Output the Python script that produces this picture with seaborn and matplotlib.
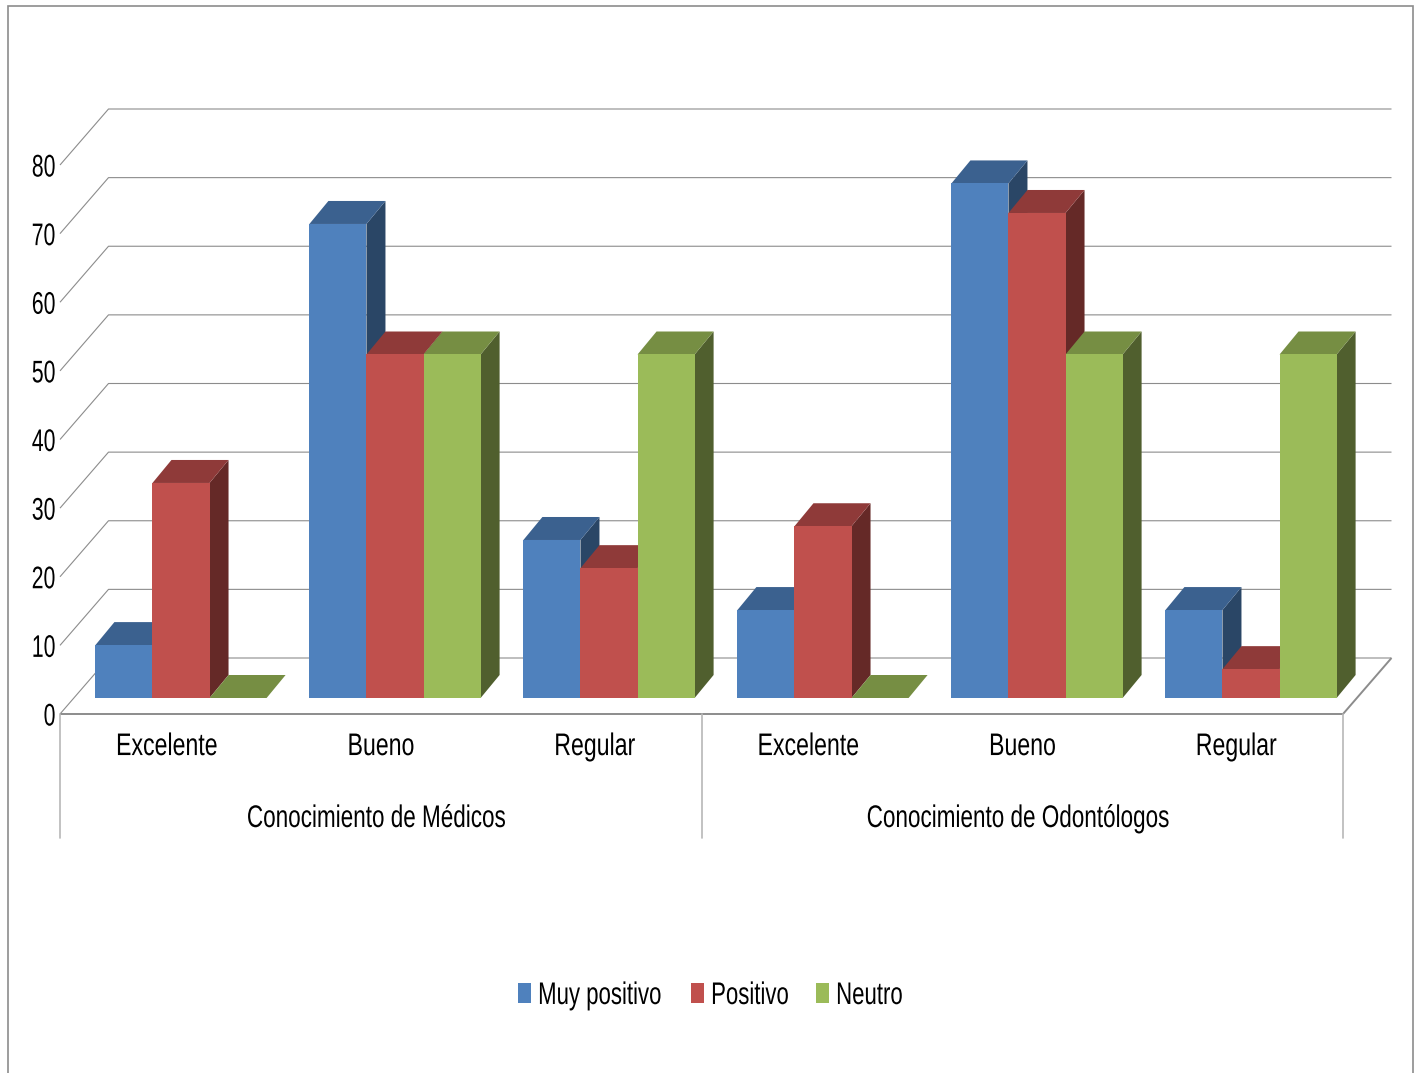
import matplotlib
matplotlib.use("Agg")
import matplotlib.pyplot as plt
from matplotlib.patches import Polygon, Rectangle
from matplotlib.patheffects import AbstractPathEffect
from matplotlib.transforms import Affine2D, blended_transform_factory
import pandas as pd
import seaborn as sns

# Survey results, percentage of answers per knowledge level and group
categories = ["Excelente", "Bueno", "Regular", "Excelente", "Bueno", "Regular"]
groups = ["Conocimiento de Médicos", "Conocimiento de Odontólogos"]
muy_positivo = [7.7, 69.0, 23.0, 12.8, 74.9, 12.8]
positivo = [31.3, 50.0, 18.9, 25.0, 70.6, 4.2]
neutro = [0.0, 50.0, 50.0, 0.0, 50.0, 50.0]
series_names = ["Muy positivo", "Positivo", "Neutro"]
y_ticks = [0, 10, 20, 30, 40, 50, 60, 70, 80]

front_colors = ["#4F81BD", "#C0504D", "#9BBB59"]
top_colors = ["#3B618F", "#8F3A39", "#768E43"]
side_colors = ["#2A4666", "#652927", "#505F2E"]

W, H = 1419, 1073
FONT_SIZE = 22.5
sns.set_theme(style="white")
plt.rcParams["font.family"] = ["Liberation Sans", "DejaVu Sans"]


class Condensed(AbstractPathEffect):
    """Narrows a text horizontally around a pivot given as a fraction of its width."""

    def __init__(self, factor=0.72, anchor=0.5):
        super().__init__()
        self.factor = factor
        self.anchor = anchor

    def draw_path(self, renderer, gc, tpath, affine, rgbFace=None):
        ext = tpath.get_extents()
        pivot = ext.x0 + ext.width * self.anchor
        local = Affine2D().translate(-pivot, 0).scale(self.factor, 1).translate(pivot, 0)
        renderer.draw_path(gc, tpath, local + affine, rgbFace)


fig = plt.figure(figsize=(W / 100, H / 100), dpi=100)


def px_axes(left, right, top, bottom):
    return fig.add_axes([left / W, 1 - bottom / H, (right - left) / W, (bottom - top) / H])


# Border around the whole chart area
fig.add_artist(Rectangle((7.5 / W, -0.01), (1413 - 7.5) / W, 1 - 6 / H + 0.01,
                         transform=fig.transFigure, fill=False, ec="#8C8C8C", lw=1.2))

# Front plane of the box: carries the tick labels, floor edge and wall lines
frame = px_axes(60, 1343, 165, 714)
frame.set_xlim(-0.5, 5.5)
frame.set_ylim(0, 80)
frame.patch.set_alpha(0)
for s in frame.spines.values():
    s.set_visible(False)
frame.set_yticks(y_ticks)
frame.set_yticklabels([str(t) for t in y_ticks], fontsize=FONT_SIZE, color="black")
frame.set_xticks(range(6))
frame.set_xticklabels(categories, fontsize=FONT_SIZE, color="black")
frame.tick_params(axis="y", length=0, pad=3)
frame.tick_params(axis="x", length=0, pad=13)
for lab in frame.get_yticklabels():
    lab.set_path_effects([Condensed(0.68, 1.0)])
for lab in frame.get_xticklabels():
    lab.set_path_effects([Condensed(0.74, 0.5)])

box_dx = 48.5 / 1283   # box depth, in axes fraction
box_dy = 56 / 6.8625   # box depth, in value units
tr = blended_transform_factory(frame.transAxes, frame.transData)
line = dict(transform=tr, clip_on=False, color="#8C8C8C", lw=0.8, solid_capstyle="butt")
for v in y_ticks:
    frame.plot([0, box_dx, 1 + box_dx], [v, v + box_dy, v + box_dy], zorder=1, **line)
frame.plot([0, 1, 1 + box_dx], [0, 0, box_dy], zorder=1, **{**line, "lw": 1.4})

# Separators under the floor, between and around the two groups
sep_bottom = -(838 - 714) / 6.8625
for x in (0, 0.5, 1):
    frame.plot([x, x], [0, sep_bottom], transform=tr, clip_on=False,
               color="#B8B8B8", lw=1.2, zorder=1)
for name, cx in zip(groups, (376.5, 1018)):
    t = frame.text((cx - 60) / 1283, -(819 - 714) / 6.8625, name, transform=tr,
                   ha="center", va="center", fontsize=FONT_SIZE, color="black")
    t.set_path_effects([Condensed(0.72, 0.5)])

# Bars sit at a plane slightly behind the front edge of the floor
ax = px_axes(74, 1358, 698 - 80 * 6.87, 698)
ax.patch.set_alpha(0)
df = pd.DataFrame({
    "pos": list(range(6)) * 3,
    "valor": muy_positivo + positivo + neutro,
    "serie": sum([[n] * 6 for n in series_names], []),
})
sns.barplot(data=df, x="pos", y="valor", hue="serie", hue_order=series_names,
            palette=front_colors, width=0.8, gap=0, saturation=1, ax=ax,
            linewidth=0, zorder=10)
ax.set_xlim(-0.5, 5.5)
ax.set_ylim(0, 80)
ax.set_axis_off()

# Extrude every bar backwards to get its side and top faces
bar_dx = 19 / 214
bar_dy = 23 / 6.87
n_cat = len(categories)
for pos in range(n_cat):
    for k in range(3):
        bar = ax.containers[k][pos]
        x0, x1 = bar.get_x(), bar.get_x() + bar.get_width()
        h = bar.get_height()
        z = 2 + k
        ax.add_patch(Polygon([(x1, 0), (x1 + bar_dx, bar_dy), (x1 + bar_dx, h + bar_dy), (x1, h)],
                             fc=side_colors[k], ec="none", zorder=z, clip_on=False))
        ax.add_patch(Polygon([(x0, h), (x1, h), (x1 + bar_dx, h + bar_dy), (x0 + bar_dx, h + bar_dy)],
                             fc=top_colors[k], ec="none", zorder=z, clip_on=False))

# Legend along the bottom of the chart, one entry per series
ax.get_legend().remove()
for name, color, left in zip(series_names, front_colors, (518, 691, 816)):
    leg = fig.legend([Rectangle((0, 0), 1, 1, fc=color, ec="none")], [name],
                     loc="center left", bbox_to_anchor=(left / W, 1 - 996 / H),
                     frameon=False, fontsize=FONT_SIZE, handlelength=0.42, handleheight=0.61,
                     handletextpad=0.2, borderpad=0, borderaxespad=0, labelcolor="black")
    leg.get_texts()[0].set_path_effects([Condensed(0.71, 0.0)])

fig.savefig("out.png", dpi=100, facecolor="white")
